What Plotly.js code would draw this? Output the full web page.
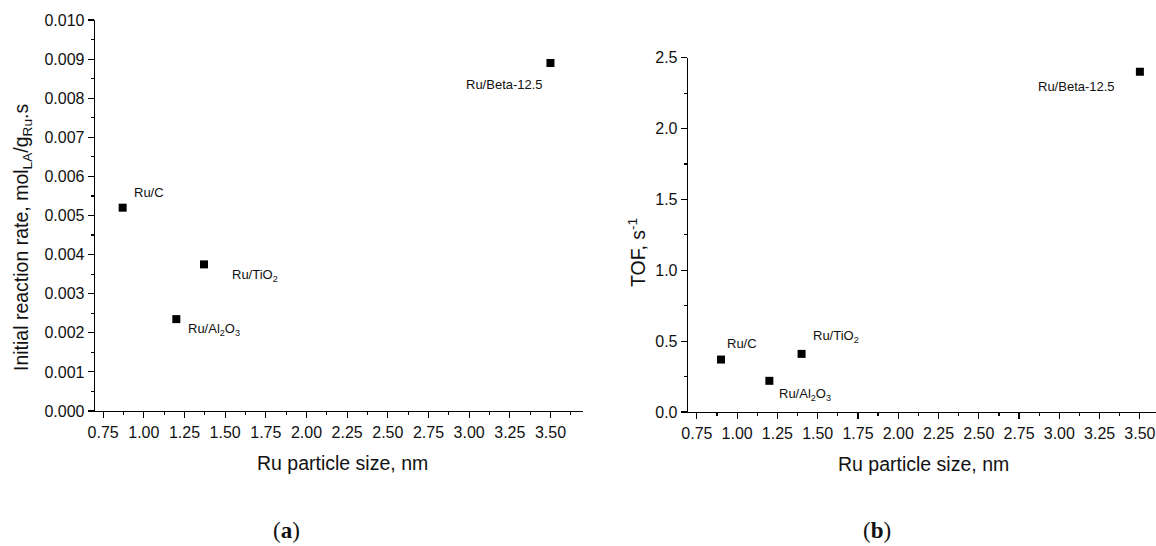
<!DOCTYPE html>
<html>
<head>
<meta charset="utf-8">
<script src="https://cdn.plot.ly/plotly-3.0.1.min.js"></script>
<style>html,body{margin:0;padding:0;background:#fff;}#chart{width:1156px;height:546px;}</style>
</head>
<body>
<div id="chart"></div>
<script>
// Data
const catalystLabels = ['Ru/C', 'Ru/TiO<sub>2</sub>', 'Ru/Al<sub>2</sub>O<sub>3</sub>', 'Ru/Beta-12.5'];
const sizeA = [0.87, 1.37, 1.20, 3.50];          // Ru particle size, nm (panel a)
const rateA = [0.0052, 0.00375, 0.00235, 0.0089]; // initial reaction rate
const sizeB = [0.90, 1.40, 1.20, 3.50];          // Ru particle size, nm (panel b)
const tofB = [0.37, 0.41, 0.22, 2.40];           // TOF, s^-1
const panelLabels = ['(<b>a</b>)', '(<b>b</b>)'];

// label placement styles (pixel offsets), per point
const offA = [{xa:'left',dx:9,dy:15},{xa:'left',dx:26,dy:-11},{xa:'left',dx:10,dy:-10},{xa:'right',dx:-5,dy:-21}];
const offB = [{xa:'left',dx:4,dy:16},{xa:'left',dx:9,dy:17},{xa:'left',dx:8,dy:-14},{xa:'right',dx:-23,dy:-15}];

const W = 1156, H = 546;
const px = x => x / W;
const py = y => 1 - y / H;

const tickFont = {family: 'Liberation Sans, Arial, sans-serif', size: 16, color: '#111'};
const titleFont = {family: 'Liberation Sans, Arial, sans-serif', size: 19.5, color: '#111'};
const labFont = {family: 'Liberation Sans, Arial, sans-serif', size: 13, color: '#111'};
const panelFont = {family: 'Liberation Serif, DejaVu Serif, serif', size: 23, color: '#111'};

const marker = {symbol: 'square', size: 8, color: '#000'};
const traces = [
  {x: sizeA, y: rateA, type: 'scatter', mode: 'markers', marker: marker, xaxis: 'x', yaxis: 'y', hoverinfo: 'skip'},
  {x: sizeB, y: tofB, type: 'scatter', mode: 'markers', marker: marker, xaxis: 'x2', yaxis: 'y2', hoverinfo: 'skip'}
];

function axisBase(extra) {
  return Object.assign({
    showgrid: false, zeroline: false, showline: true, linecolor: '#000', linewidth: 1.3,
    ticks: 'outside', ticklen: 6, tickwidth: 1.2, tickcolor: '#000',
    tickfont: tickFont, fixedrange: true
  }, extra);
}

const annotations = [];
sizeA.forEach((x, i) => {
  annotations.push({x: x, y: rateA[i], xref: 'x', yref: 'y', text: catalystLabels[i], showarrow: false,
    xanchor: offA[i].xa, yanchor: 'middle', xshift: offA[i].dx, yshift: offA[i].dy, font: labFont});
});
sizeB.forEach((x, i) => {
  annotations.push({x: x, y: tofB[i], xref: 'x2', yref: 'y2', text: catalystLabels[i], showarrow: false,
    xanchor: offB[i].xa, yanchor: 'middle', xshift: offB[i].dx, yshift: offB[i].dy, font: labFont});
});
// axis titles
annotations.push({xref: 'paper', yref: 'paper', x: px(22), y: py(238), text: 'Initial reaction rate, mol<sub>LA</sub>/g<sub>Ru</sub>.s',
  textangle: -90, showarrow: false, xanchor: 'center', yanchor: 'middle', font: titleFont});
annotations.push({xref: 'paper', yref: 'paper', x: px(342), y: py(463), text: 'Ru particle size, nm',
  showarrow: false, xanchor: 'center', yanchor: 'middle', font: titleFont});
annotations.push({xref: 'paper', yref: 'paper', x: px(637), y: py(252), text: 'TOF, s<sup>-1</sup>',
  textangle: -90, showarrow: false, xanchor: 'center', yanchor: 'middle', font: titleFont});
annotations.push({xref: 'paper', yref: 'paper', x: px(923), y: py(464), text: 'Ru particle size, nm',
  showarrow: false, xanchor: 'center', yanchor: 'middle', font: titleFont});
// panel labels
annotations.push({xref: 'paper', yref: 'paper', x: px(286), y: py(530), text: panelLabels[0],
  showarrow: false, xanchor: 'center', yanchor: 'middle', font: panelFont});
annotations.push({xref: 'paper', yref: 'paper', x: px(877), y: py(530), text: panelLabels[1],
  showarrow: false, xanchor: 'center', yanchor: 'middle', font: panelFont});

const xTicks = [0.75,1.0,1.25,1.5,1.75,2.0,2.25,2.5,2.75,3.0,3.25,3.5];

const layout = {
  width: W, height: H,
  margin: {l: 0, r: 0, t: 0, b: 0},
  paper_bgcolor: '#fff', plot_bgcolor: '#fff',
  showlegend: false,
  xaxis: axisBase({domain: [px(95), px(583)], range: [0.7, 3.7], anchor: 'y',
    tickvals: xTicks, tickformat: '.2f',
    minor: {ticks: 'outside', ticklen: 3, tickcolor: '#000', tickwidth: 1.2, dtick: 0.25, tick0: 0.625}}),
  yaxis: axisBase({domain: [py(411), py(20)], range: [0, 0.010], anchor: 'x',
    dtick: 0.001, tick0: 0, tickformat: '.3f',
    minor: {ticks: 'outside', ticklen: 3, tickcolor: '#000', tickwidth: 1.2, dtick: 0.001, tick0: 0.0005}}),
  xaxis2: axisBase({domain: [px(688), 1], range: [0.695, 3.6], anchor: 'y2',
    tickvals: xTicks, tickformat: '.2f',
    minor: {ticks: 'outside', ticklen: 3, tickcolor: '#000', tickwidth: 1.2, dtick: 0.25, tick0: 0.625}}),
  yaxis2: axisBase({domain: [py(412), py(57.7)], range: [0, 2.5], anchor: 'x2',
    dtick: 0.5, tick0: 0, tickformat: '.1f',
    minor: {ticks: 'outside', ticklen: 3, tickcolor: '#000', tickwidth: 1.2, dtick: 0.5, tick0: 0.25}}),
  annotations: annotations
};

Plotly.newPlot('chart', traces, layout, {staticPlot: true, displayModeBar: false});
</script>
</body>
</html>
